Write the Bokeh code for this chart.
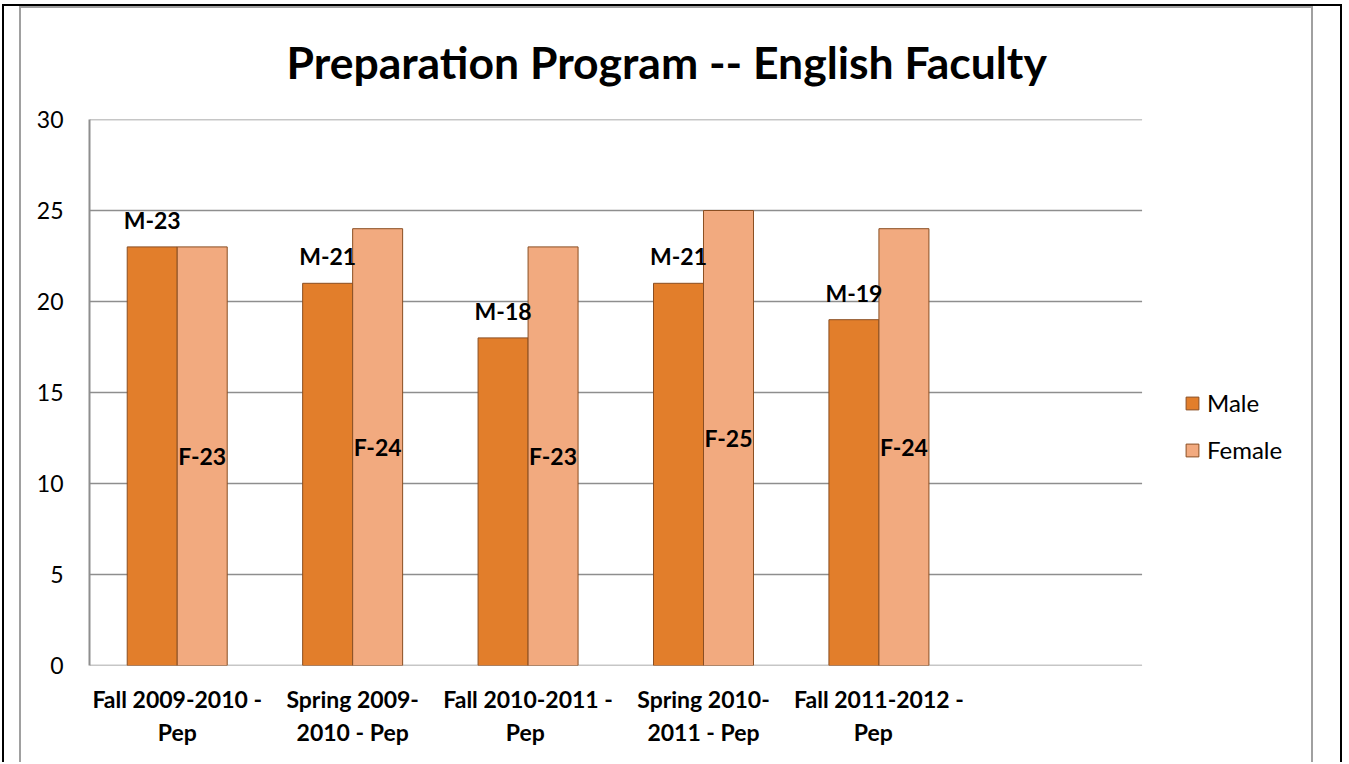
from bokeh.plotting import figure
from bokeh.models import (ColumnDataSource, FactorRange, Range1d, Legend, LegendItem,
                          FixedTicker, CategoricalAxis, InlineStyleSheet)
from bokeh.transform import dodge
from bokeh.core.properties import value
from bokeh.embed import file_html
from bokeh.resources import INLINE

# ---- data ----
categories = ["Fall 2009-2010 - Pep", "Spring 2009-2010 - Pep", "Fall 2010-2011 - Pep",
              "Spring 2010-2011 - Pep", "Fall 2011-2012 - Pep"]
# wrapped category labels (line 1 / line 2); trailing spaces only keep factors unique
tick_line1 = ["Fall 2009-2010 -", "Spring 2009-", "Fall 2010-2011 -", "Spring 2010-", "Fall 2011-2012 -"]
tick_line2 = ["Pep", "2010 - Pep", "Pep ", "2011 - Pep", "Pep  "]
blank_slots = [" ", "  "]          # empty 6th category + room for the legend
male = [23, 21, 18, 21, 19]
female = [23, 24, 23, 25, 24]
male_labels = ["M-23", "M-21", "M-18", "M-21", "M-19"]
female_labels = ["F-23", "F-24", "F-23", "F-25", "F-24"]
y_ticks = [0, 5, 10, 15, 20, 25, 30]
title_text = "Preparation Program -- English Faculty"
series_names = ["Male", "Female"]

FONT = "Lato"
n_slots = len(tick_line1) + len(blank_slots)
SLOT = 175.5
W, H = 1344, 762
FL, FT = 89, 119
FR = W - FL - round(SLOT * n_slots)
FB = H - FT - 546

p = figure(x_range=FactorRange(*(tick_line1 + blank_slots), range_padding=0, factor_padding=0),
           y_range=Range1d(0, 30), width=W, height=H,
           output_backend="svg", toolbar_location=None,
           min_border_left=FL, min_border_right=FR, min_border_top=FT, min_border_bottom=FB)
p.background_fill_color = "white"
p.border_fill_color = "white"
p.outline_line_color = None
p.extra_x_ranges = {
    "line2": FactorRange(*(tick_line2 + blank_slots), range_padding=0, factor_padding=0),
}

# horizontal gridlines only across the plot area (5 categories + the empty 6th slot)
grid_src = ColumnDataSource(dict(y=y_ticks, xs=[tick_line1[0]] * len(y_ticks),
                                 xe=[blank_slots[0]] * len(y_ticks)))
p.segment(x0=dodge("xs", -0.5, range=p.x_range), x1=dodge("xe", 0.5, range=p.x_range),
          y0="y", y1="y", source=grid_src, line_color="#8E8E8E", line_width=1.6)

src = ColumnDataSource(dict(cat=tick_line1, male=male, female=female,
                            mlab=male_labels, flab=female_labels,
                            fmid=[v / 2 for v in female]))

BW = 0.285
off = BW / 2
r_m = p.vbar(x=dodge("cat", -off, range=p.x_range), top="male", width=BW, source=src,
             fill_color="#E27E2B", line_color="#8A4E22", line_width=1)
r_f = p.vbar(x=dodge("cat", off, range=p.x_range), top="female", width=BW, source=src,
             fill_color="#F2AA7F", line_color="#8A4E22", line_width=1)

p.text(x=dodge("cat", -off, range=p.x_range), y="male", text="mlab", source=src,
       text_align="center", text_baseline="middle", y_offset=-27,
       text_font=value(FONT), text_font_style="bold", text_font_size="23px", text_color="black")
p.text(x=dodge("cat", off, range=p.x_range), y="fmid", text="flab", source=src,
       text_align="center", text_baseline="middle",
       text_font=value(FONT), text_font_style="bold", text_font_size="23px", text_color="black")

# axes
xa2 = CategoricalAxis(x_range_name="line2")
p.add_layout(xa2, "below")
for ax in (p.xaxis[0], xa2):
    ax.major_label_text_font = FONT
    ax.major_label_text_font_style = "bold"
    ax.major_label_text_font_size = "23px"
    ax.major_label_text_color = "black"
    ax.major_tick_line_color = None
    ax.minor_tick_line_color = None
    ax.axis_line_color = None
p.xaxis[0].major_label_standoff = 13
xa2.major_label_standoff = -4

p.yaxis.ticker = FixedTicker(ticks=y_ticks)
p.yaxis.major_label_text_font = FONT
p.yaxis.major_label_text_font_size = "23px"
p.yaxis.major_label_text_color = "black"
p.yaxis.major_label_standoff = 20
p.yaxis.major_tick_line_color = None
p.yaxis.minor_tick_line_color = None
p.yaxis.axis_line_color = "#8E8E8E"
p.yaxis.axis_line_width = 2

p.xgrid.grid_line_color = None
p.ygrid.grid_line_color = None

# title
p.title.text = title_text
p.title.align = "left"
p.title.offset = 197
p.title.standoff = 63
p.title.text_font = FONT
p.title.text_font_style = "bold"
p.title.text_font_size = "44.5px"
p.title.text_color = "black"

# legend (inside the drawing area, right of the plotted categories)
legend = Legend(items=[LegendItem(label=series_names[0], renderers=[r_m]),
                       LegendItem(label=series_names[1], renderers=[r_f])],
                location=(1095, 201), orientation="vertical",
                padding=0, margin=0, spacing=18, border_line_color=None,
                background_fill_alpha=0, glyph_width=16, glyph_height=16, label_height=27,
                label_standoff=7, label_text_font=FONT, label_text_font_size="24px",
                label_text_color="black")
p.add_layout(legend)

# page border (black) and chart-area border (grey), drawn as CSS overlays
p.stylesheets = [InlineStyleSheet(css="""
:host::before { content: ""; position: absolute; left: 2px; top: 4px; right: 2px; bottom: 0;
  border: 2.5px solid black; border-bottom: none; pointer-events: none; z-index: 10; }
:host::after { content: ""; position: absolute; left: 19px; top: 6px; right: 31px; bottom: 0;
  border: 2px solid #A0A0A0; border-bottom: none; pointer-events: none; z-index: 10; }
""")]

open("out.html", "w").write(file_html(p, INLINE))
